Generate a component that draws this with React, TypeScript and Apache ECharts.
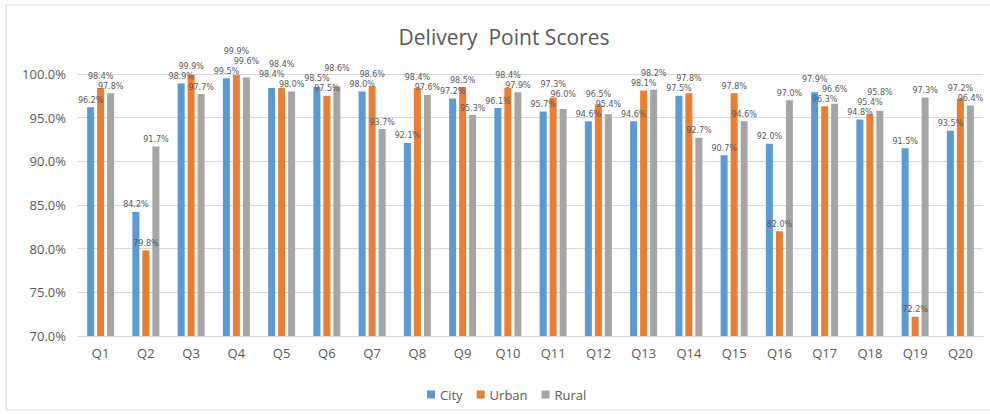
import React, { useEffect, useRef } from "react";
import * as echarts from "echarts";

const categories = ["Q1","Q2","Q3","Q4","Q5","Q6","Q7","Q8","Q9","Q10","Q11","Q12","Q13","Q14","Q15","Q16","Q17","Q18","Q19","Q20"];
const city = [96.2, 84.2, 98.9, 99.5, 98.4, 98.5, 98.0, 92.1, 97.2, 96.1, 95.7, 94.6, 94.6, 97.5, 90.7, 92.0, 97.9, 94.8, 91.5, 93.5];
const urban = [98.4, 79.8, 99.9, 99.9, 98.4, 97.5, 98.6, 98.4, 98.5, 98.4, 97.3, 96.5, 98.1, 97.8, 97.8, 82.0, 96.3, 95.4, 72.2, 97.2];
const rural = [97.8, 91.7, 97.7, 99.6, 98.0, 98.6, 93.7, 97.6, 95.3, 97.9, 96.0, 95.4, 98.2, 92.7, 94.6, 97.0, 96.6, 95.8, 97.3, 96.4];
const yTicks = { min: 70, max: 100, interval: 5 };

const seriesDefs = [
  { name: "City", data: city, color: "#5B9BD5" },
  { name: "Urban", data: urban, color: "#ED7D31" },
  { name: "Rural", data: rural, color: "#A5A5A5" },
];

const BAR_W = 7;
const BAR_GAP = 3;
const LABEL_FS = 8;
const LABEL_FONT = "'DejaVu Sans', sans-serif";
const LABEL_H = 10;
const LABEL_DIST = 3;
const fmt = (v: number) => `${v.toFixed(1)}%`;

export default function App() {
  const ref = useRef<HTMLDivElement>(null);
  useEffect(() => {
    if (!ref.current) return;
    const chart = echarts.init(ref.current, undefined, { renderer: "svg" });
    const font = "'Open Sans', 'Liberation Sans', sans-serif";
    const labelStyle = {
      show: true,
      position: "top",
      distance: LABEL_DIST,
      color: "#595959",
      fontSize: LABEL_FS,
      fontFamily: LABEL_FONT,
      formatter: (p: any) => fmt(Number(p.value)),
    };
    chart.setOption({
      animation: false,
      backgroundColor: "#ffffff",
      graphic: [
        {
          type: "rect",
          shape: { x: 6, y: 5, width: 1000, height: 405 },
          style: { fill: "none", stroke: "#d9d9d9", lineWidth: 1 },
          silent: true,
        },
        {
          type: "text",
          x: 504,
          y: 37,
          style: {
            text: "Delivery  Point Scores",
            fill: "#595959",
            font: `21px ${font}`,
            textAlign: "center",
            textVerticalAlign: "middle",
          },
        },
      ],
      legend: {
        data: seriesDefs.map((s) => s.name),
        left: 422,
        top: 383,
        icon: "rect",
        itemWidth: 8,
        itemHeight: 8,
        itemGap: 14,
        textStyle: { color: "#595959", fontSize: 13, fontFamily: font },
      },
      grid: { left: 78, right: 7, top: 74, bottom: 78, containLabel: false },
      xAxis: {
        type: "category",
        data: categories,
        axisLine: { lineStyle: { color: "#d9d9d9" } },
        axisTick: { show: false },
        axisLabel: { color: "#595959", fontSize: 13, fontFamily: font, margin: 10 },
      },
      yAxis: {
        type: "value",
        min: yTicks.min,
        max: yTicks.max,
        interval: yTicks.interval,
        axisLine: { show: false },
        axisTick: { show: false },
        splitLine: { lineStyle: { color: "#d9d9d9" } },
        axisLabel: {
          color: "#595959",
          fontSize: 13,
          fontFamily: font,
          margin: 12,
          formatter: (v: number) => `${v.toFixed(1)}%`,
        },
      },
      series: seriesDefs.map((s) => ({
        name: s.name,
        type: "bar",
        data: s.data,
        barWidth: BAR_W,
        barGap: `${(BAR_GAP / BAR_W) * 100}%`,
        itemStyle: { color: s.color },
        label: labelStyle,
      })),
    });

    // Stagger overlapping data labels upward (like the reference's manually moved labels)
    const ctx = document.createElement("canvas").getContext("2d");
    const measure = (t: string) => {
      if (!ctx) return t.length * LABEL_FS * 0.62;
      ctx.font = `${LABEL_FS}px DejaVu Sans`;
      return ctx.measureText(t).width;
    };
    type L = { si: number; i: number; x: number; y: number; w: number; ny: number };
    const labels: L[] = [];
    const pitch = BAR_W + BAR_GAP;
    seriesDefs.forEach((s, si) => {
      s.data.forEach((v, i) => {
        const pt = chart.convertToPixel({ xAxisIndex: 0, yAxisIndex: 0 }, [i, v]) as number[];
        const x = pt[0] + (si - 1) * pitch;
        const y = pt[1] - LABEL_DIST - LABEL_H / 2;
        labels.push({ si, i, x, y, w: measure(fmt(v)), ny: y });
      });
    });
    const sorted = [...labels].sort((a, b) => b.y - a.y);
    const placed: L[] = [];
    for (const lab of sorted) {
      let y = lab.y;
      let moved = true;
      while (moved) {
        moved = false;
        for (const p of placed) {
          if (Math.abs(p.x - lab.x) < (p.w + lab.w) / 2 - 1 && Math.abs(p.ny - y) < LABEL_H) {
            y = p.ny - LABEL_H;
            moved = true;
          }
        }
      }
      lab.ny = y;
      placed.push(lab);
    }
    chart.setOption({
      series: seriesDefs.map((s, si) => ({
        data: s.data.map((v, i) => {
          const lab = labels.find((l) => l.si === si && l.i === i)!;
          return { value: v, label: { offset: [0, lab.ny - lab.y] } };
        }),
      })),
    });
    return () => chart.dispose();
  }, []);
  return (
    <div
      ref={ref}
      style={{ position: "absolute", left: 0, top: 0, width: 990, height: 414 }}
    />
  );
}
